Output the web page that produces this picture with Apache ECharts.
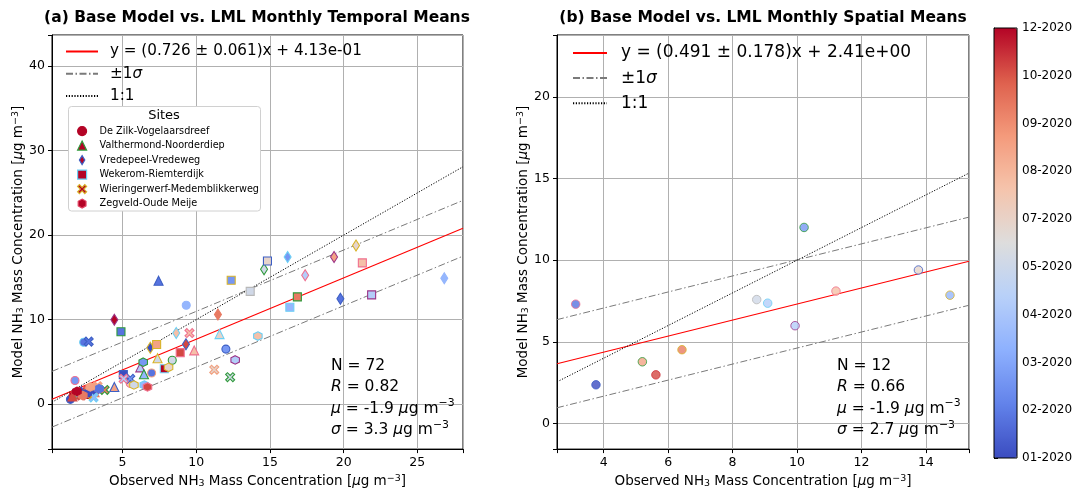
<!DOCTYPE html>
<html><head><meta charset="utf-8">
<script src="https://cdn.jsdelivr.net/npm/echarts/dist/echarts.min.js"></script>
<style>html,body{margin:0;padding:0;background:#fff}#c{width:1076px;height:493px}</style>
</head><body><div id="c"></div><script>
const FF = 'DejaVu Sans';
// ---------------- data ----------------
const siteNames = ['De Zilk-Vogelaarsdreef','Valthermond-Noorderdiep','Vredepeel-Vredeweg','Wekerom-Riemterdijk','Wieringerwerf-Medemblikkerweg','Zegveld-Oude Meije'];
const deZilkObs   = [1.46, 1.64, 2.36, 1.77, 6.97, 3.20, 2.02, 5.52, 8.37, 9.32, 12.01, 2.60];
const deZilkMod   = [0.55, 1.01, 7.31, 2.79, 3.68, 1.63, 1.09, 2.44, 5.19, 11.70, 6.50, 1.70];
const deZilkMonth = [1, 12, 2, 3, 2, 5, 9, 8, 6, 4, 3, 10];
const valthObs    = [7.44, 11.58, 9.86, 7.37, 6.20, 6.45, 4.44, 2.20, 2.90, 3.10, 1.60, 2.40];
const valthMod    = [14.60, 8.28, 6.35, 5.42, 4.34, 3.52, 2.02, 1.50, 1.90, 1.40, 0.90, 1.20];
const valthMonth  = [2, 7, 8, 6, 5, 4, 9, 1, 3, 10, 11, 12];
const vredeObs    = [6.88, 19.78, 16.20, 26.83, 17.39, 14.60, 20.84, 8.64, 19.35, 11.47, 9.30, 4.44];
const vredeMod    = [6.66, 12.46, 17.40, 14.89, 15.24, 15.97, 18.76, 8.40, 17.40, 10.60, 7.08, 9.98];
const vredeMonth  = [1, 2, 3, 4, 5, 6, 7, 8, 9, 10, 11, 12];
const wekerObs    = [5.05, 4.89, 12.37, 16.35, 21.90, 13.66, 14.83, 21.27, 7.31, 16.86, 8.91, 7.83];
const wekerMod    = [3.48, 8.55, 14.66, 11.45, 12.92, 13.34, 16.94, 16.71, 7.04, 12.69, 6.08, 4.18];
const wekerMonth  = [1, 2, 3, 4, 5, 6, 7, 8, 9, 10, 11, 12];
const wierObs     = [2.90, 2.70, 5.52, 3.03, 5.07, 12.30, 11.22, 9.54, 3.30, 3.78, 2.20, 2.59];
const wierMod     = [1.60, 7.39, 2.98, 0.78, 2.98, 3.18, 4.06, 8.40, 2.10, 1.67, 1.00, 1.16];
const wierMonth   = [1, 2, 3, 4, 5, 6, 7, 8, 9, 10, 11, 12];
const zegObs      = [2.60, 3.40, 6.40, 6.47, 12.64, 5.77, 8.12, 14.18, 2.81, 2.30, 6.69, 1.90];
const zegMod      = [1.30, 1.80, 4.95, 2.25, 5.22, 2.25, 4.34, 8.05, 2.02, 1.00, 2.02, 1.50];
const zegMonth    = [1, 2, 3, 4, 5, 6, 7, 8, 9, 10, 11, 12];

const spatialObs   = [3.13, 3.76, 5.20, 5.62, 6.43, 8.75, 9.09, 9.94, 10.22, 11.21, 13.77, 14.75];
const spatialMod   = [7.31, 2.37, 3.78, 2.98, 4.52, 7.59, 7.37, 5.99, 12.01, 8.11, 9.40, 7.86];
const spatialMonth = [2, 1, 9, 11, 10, 6, 5, 5, 3, 8, 7, 4];

const temporalFit = {slope: 0.726, slopeErr: 0.061, intercept: 0.413, sigma: 3.3};
const spatialFit  = {slope: 0.491, slopeErr: 0.178, intercept: 2.41, sigma: 2.7};
const temporalStats = {N: 72, R: 0.82, mu: -1.9, sigma: 3.3};
const spatialStats  = {N: 12, R: 0.66, mu: -1.9, sigma: 2.7};

const xRangeA = [0.21, 28.1], yRangeA = [-5.34, 43.7];
const xRangeB = [2.55, 15.34], yRangeB = [-1.57, 23.8];
const monthRange = [1, 12];
const cbTicks = ['01-2020','02-2020','03-2020','04-2020','05-2020','07-2020','08-2020','09-2020','10-2020','12-2020'];

// ---------------- styles ----------------
const coolwarm = ['#3b4cc0','#6282ea','#8db0fe','#b8d0f9','#dddddd','#f5c4ac','#f49a7b','#de604d','#b40426'];
const edgePalette = {b:'#3d5fc4', g:'#2e9a3a', c:'#6cd0f5', y:'#d9b42a', p:'#f0708f', m:'#9c3488', r:'#d0303a', s:'#f2a07f', k:'#b8b8b8'};
const deZilkEdge = ['b','r','c','p','s','m','g','p','g','n','b','r'];
const valthEdge  = ['b','c','p','y','m','g','b','n','n','n','n','n'];
const vredeEdge  = ['y','b','c','n','p','g','y','c','m','n','b','m'];
const wekerEdge  = ['b','g','y','c','m','k','b','p','y','g','p','c'];
const wierEdge   = ['n','b','b','c','p','g','s','p','n','g','n','y'];
const zegEdge    = ['n','n','g','c','m','y','y','c','s','n','p','n'];
const spatialEdge = ['p','b','g','r','y','k','c','m','g','p','b','y'];
const XPATH = 'path://M0,2 L2,0 L5,3 L8,0 L10,2 L7,5 L10,8 L8,10 L5,7 L2,10 L0,8 L3,5 Z';
const HEXPATH = 'path://M5,0 L9.33,2.5 L9.33,7.5 L5,10 L0.67,7.5 L0.67,2.5 Z';
const DIAPATH = 'path://M3,0 L6,5 L3,10 L0,5 Z';
const siteSymbol = ['circle','triangle','diamond','rect',XPATH,HEXPATH];
const siteSize = [8, 9, [7,11], 8, 9, 8.5];
const siteLegendIcon = ['circle','triangle',DIAPATH,'rect',XPATH,HEXPATH];
const siteLegendEdge = ['#b40426','#2e9a3a','#3d5fc4','#6cd0f5','#d9b42a','#e04060'];

function hex2rgb(h){return [parseInt(h.slice(1,3),16),parseInt(h.slice(3,5),16),parseInt(h.slice(5,7),16)];}
function cw(t){
  const n = coolwarm.length-1, p = Math.max(0,Math.min(1,t))*n;
  const i = Math.min(n-1, Math.floor(p)), f = p-i;
  const a = hex2rgb(coolwarm[i]), b = hex2rgb(coolwarm[i+1]);
  return 'rgb('+a.map((v,k)=>Math.round(v+(b[k]-v)*f)).join(',')+')';
}
function edgeOf(code, month){
  return code === 'n' ? cw((month-monthRange[0])/(monthRange[1]-monthRange[0])) : edgePalette[code];
}
function points(obs, mod, mon, edges){
  return obs.map((x,i)=>({value:[x, mod[i], mon[i]], itemStyle:{borderColor: edgeOf(edges[i], mon[i])}}));
}
const siteData = [
  points(deZilkObs, deZilkMod, deZilkMonth, deZilkEdge),
  points(valthObs, valthMod, valthMonth, valthEdge),
  points(vredeObs, vredeMod, vredeMonth, vredeEdge),
  points(wekerObs, wekerMod, wekerMonth, wekerEdge),
  points(wierObs, wierMod, wierMonth, wierEdge),
  points(zegObs, zegMod, zegMonth, zegEdge)
];

function fitLabel(f){
  let e = f.intercept.toExponential(2).replace(/e([+-])(\d)$/, 'e$10$2');
  return 'y = (' + f.slope.toFixed(3) + ' ± ' + f.slopeErr.toFixed(3) + ')x + ' + e;
}
function lineData(slope, icpt, xr){ return [[xr[0], slope*xr[0]+icpt], [xr[1], slope*xr[1]+icpt]]; }

const legendLabels = {
  fitA: fitLabel(temporalFit), sigA: '±1{i|σ}', oneA: '1:1',
  fitB: fitLabel(spatialFit),  sigB: '±1{i|σ}', oneB: '1:1'
};
function rich(fs){
  return {
    i:{fontStyle:'italic', fontSize:fs, fontFamily:FF, color:'#000'},
    sup:{fontSize:fs*0.7, fontFamily:FF, color:'#000', verticalAlign:'top', lineHeight:fs*0.5},
    sub:{fontSize:fs*0.7, fontFamily:FF, color:'#000', verticalAlign:'bottom', lineHeight:fs*0.75}
  };
}
function statText(s){
  return 'N = ' + s.N + '\n{i|R} = ' + s.R.toFixed(2) + '\n{i|μ} = ' + s.mu.toFixed(1) + ' {i|μ}g m{sup|−3}\n{i|σ} = ' + s.sigma.toFixed(1) + ' {i|μ}g m{sup|−3}';
}
function zrRich(fs){
  return {
    i:{fontStyle:'italic', fontSize:fs, fontFamily:FF},
    sup:{fontSize:fs*0.7, fontFamily:FF, verticalAlign:'top', lineHeight:fs*0.5}
  };
}

const xName = 'Observed NH{sub|3} Mass Concentration [{i|μ}g m{sup|−3}]';
const yName = 'Model NH{sub|3} Mass Concentration [{i|μ}g m{sup|−3}]';

function isMult(v, step){ const r = v/step; return Math.abs(r-Math.round(r)) < 1e-6; }
function valueAxis(gi, range, step, split, name, gap){
  return {
    type:'value', gridIndex:gi, min:range[0], max:range[1], splitNumber:split,
    axisLine:{show:true, onZero:false, lineStyle:{color:'#000', width:1}},
    axisTick:{show:true, length:4, lineStyle:{color:'#000', width:1}},
    axisLabel:{color:'#000', fontSize:12.5, fontFamily:FF, margin:7,
      formatter:(v)=> isMult(v, step) ? String(Math.round(v)) : ''},
    splitLine:{show:true, lineStyle:{color:'#b0b0b0', width:1}},
    name:name, nameLocation:'middle', nameGap:gap,
    nameTextStyle:{fontSize:13.5, color:'#000', fontFamily:FF, rich:rich(13.5)}
  };
}

const series = [];
function addLines(tag, fit, xr, gi){
  const base = {type:'line', xAxisIndex:gi, yAxisIndex:gi, symbol:'none', showSymbol:false, silent:true, z:2, animation:false};
  series.push(Object.assign({}, base, {name:'fit'+tag, data:lineData(fit.slope, fit.intercept, xr), lineStyle:{color:'#ff0000', width:1.1}}));
  series.push(Object.assign({}, base, {name:'sig'+tag, data:lineData(fit.slope, fit.intercept+fit.sigma, xr), lineStyle:{color:'#7a7a7a', width:1, type:[7,2.5,1.5,2.5]}}));
  series.push(Object.assign({}, base, {name:'sig'+tag, data:lineData(fit.slope, fit.intercept-fit.sigma, xr), lineStyle:{color:'#7a7a7a', width:1, type:[7,2.5,1.5,2.5]}}));
  series.push(Object.assign({}, base, {name:'one'+tag, data:lineData(1, 0, xr), lineStyle:{color:'#000', width:1, type:[1.2,1.6]}}));
}
addLines('A', temporalFit, xRangeA, 0);
const scatterIdx = [];
siteNames.forEach((s,i)=>{
  scatterIdx.push(series.length);
  series.push({type:'scatter', name:s, xAxisIndex:0, yAxisIndex:0, symbol:siteSymbol[i], symbolSize:siteSize[i],
    data:siteData[i], itemStyle:{borderWidth:1.1, opacity:1}, z:3, animation:false, emphasis:{disabled:true}});
});
addLines('B', spatialFit, xRangeB, 1);
scatterIdx.push(series.length);
series.push({type:'scatter', name:'spatial', xAxisIndex:1, yAxisIndex:1, symbol:'circle', symbolSize:8.5,
  data:points(spatialObs, spatialMod, spatialMonth, spatialEdge), itemStyle:{borderWidth:1}, z:3, animation:false, emphasis:{disabled:true}});

const lineLegendBase = {orient:'vertical', padding:0, selectedMode:false, itemHeight:12,
  itemStyle:{opacity:0, color:'transparent', borderWidth:0}, formatter:(n)=>legendLabels[n]};
const option = {
  animation:false,
  textStyle:{fontFamily:FF},
  grid:[
    {left:52, top:35, width:411, height:423, show:true, borderColor:'#000', borderWidth:1, backgroundColor:'transparent'},
    {left:557, top:35, width:412, height:423, show:true, borderColor:'#000', borderWidth:1, backgroundColor:'transparent'},
    {left:994, top:28, width:23, height:430, show:true, borderColor:'#000', borderWidth:1, backgroundColor:'transparent', z:10}
  ],
  xAxis:[
    valueAxis(0, xRangeA, 5, 5, xName, 24),
    valueAxis(1, xRangeB, 2, 6, xName, 24),
    {type:'value', gridIndex:2, min:0, max:1, show:false}
  ],
  yAxis:[
    valueAxis(0, yRangeA, 10, 5, yName, 21),
    valueAxis(1, yRangeB, 5, 5, yName, 16),
    {type:'value', gridIndex:2, min:0, max:cbTicks.length-1, interval:1, position:'right',
      axisLine:{show:true, lineStyle:{color:'#000'}}, axisTick:{show:true, length:4, lineStyle:{color:'#000'}},
      splitLine:{show:false}, axisLabel:{color:'#000', fontSize:12, fontFamily:FF, margin:5, formatter:(v)=>cbTicks[Math.round(v)]}}
  ],
  visualMap:{type:'continuous', min:monthRange[0], max:monthRange[1], dimension:2, seriesIndex:scatterIdx,
    inRange:{color:coolwarm}, orient:'vertical', left:994, top:28, itemWidth:23, itemHeight:430,
    calculable:false, padding:0, hoverLink:false, text:null, textStyle:{color:'transparent'}},
  legend:[
    Object.assign({}, lineLegendBase, {data:['fitA','sigA','oneA'], left:65, top:44, itemWidth:32, itemGap:7.3,
      textStyle:{fontSize:15.2, color:'#000', fontFamily:FF, padding:[0,0,0,7], rich:rich(15.2)}}),
    Object.assign({}, lineLegendBase, {data:['fitB','sigB','oneB'], left:572, top:44.5, itemWidth:34, itemGap:8.1,
      textStyle:{fontSize:17, color:'#000', fontFamily:FF, padding:[0,0,0,9], rich:rich(17)}}),
    {data:siteNames.map((s,i)=>({name:s, icon:siteLegendIcon[i], itemStyle:{color:'#b40426', borderColor:siteLegendEdge[i], borderWidth:1.2}})),
      orient:'vertical', left:77, top:126, itemWidth:9, itemHeight:9, itemGap:4.3, padding:0, selectedMode:false, z:12,
      textStyle:{fontSize:9.7, color:'#000', fontFamily:FF, padding:[0,0,0,8]}}
  ],
  graphic:[
    {type:'text', x:257, y:18, z:20, style:{text:'(a) Base Model vs. LML Monthly Temporal Means', align:'center', verticalAlign:'middle', fill:'#000', fontSize:15.5, fontWeight:'bold', fontFamily:FF}},
    {type:'text', x:763, y:18, z:20, style:{text:'(b) Base Model vs. LML Monthly Spatial Means', align:'center', verticalAlign:'middle', fill:'#000', fontSize:15.5, fontWeight:'bold', fontFamily:FF}},
    {type:'rect', z:11, shape:{x:68.5, y:106.5, width:192, height:104.5, r:3}, style:{fill:'#fff', stroke:'#d0d0d0', lineWidth:1}},
    {type:'text', x:164, y:116, z:12, style:{text:'Sites', align:'center', verticalAlign:'middle', fill:'#000', fontSize:13, fontFamily:FF}},
    {type:'text', x:331, y:355, z:20, style:{text:statText(temporalStats), fill:'#000', fontSize:15.5, fontFamily:FF, lineHeight:21.4, verticalAlign:'top', rich:zrRich(15.5)}},
    {type:'text', x:837, y:355, z:20, style:{text:statText(spatialStats), fill:'#000', fontSize:15.5, fontFamily:FF, lineHeight:21.4, verticalAlign:'top', rich:zrRich(15.5)}}
  ],
  series:series
};
const chart = echarts.init(document.getElementById('c'), null, {renderer:'canvas'});
chart.setOption(option);
</script></body></html>
